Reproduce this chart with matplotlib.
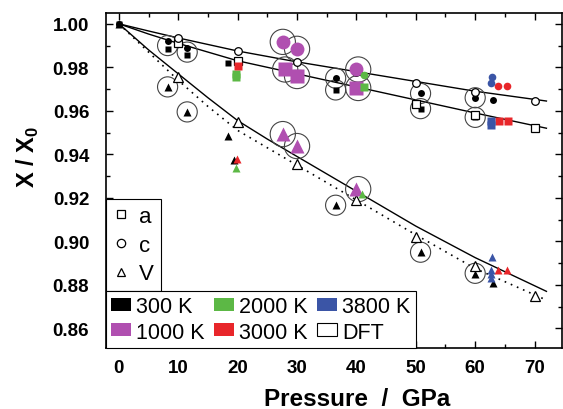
import matplotlib
matplotlib.use("Agg")
import matplotlib.pyplot as plt
import matplotlib.patches as mpatches
from matplotlib.lines import Line2D
from matplotlib.ticker import MultipleLocator

plt.rcParams["font.family"] = ["Liberation Sans", "DejaVu Sans"]
plt.rcParams["mathtext.fontset"] = "custom"
plt.rcParams["mathtext.bf"] = "Liberation Sans:bold"
plt.rcParams["mathtext.rm"] = "Liberation Sans:bold"

# fitted curves
fit_P = [0, 5, 10, 15, 20, 25, 30, 40, 50, 60, 72]
fit_a = [1.000, 0.9953, 0.991, 0.987, 0.983, 0.980, 0.977, 0.971, 0.965, 0.959, 0.952]
fit_c = [1.000, 0.9967, 0.9935, 0.9905, 0.9875, 0.985, 0.9825, 0.978, 0.9735, 0.969, 0.9645]
fit_V = [1.000, 0.988, 0.977, 0.966, 0.9555, 0.947, 0.939, 0.923, 0.907, 0.8925, 0.877]
dft_fit_V = [1.000, 0.987, 0.974, 0.962, 0.951, 0.943, 0.935, 0.919, 0.903, 0.8875, 0.873]

# DFT points
dft_P = [10, 20, 30, 40, 50, 60, 70]
dft_a = [0.991, 0.983, 0.977, 0.971, 0.963, 0.958, 0.952]
dft_c = [0.9935, 0.9876, 0.9825, 0.978, 0.9728, 0.9687, 0.9645]
dft_V = [0.9756, 0.955, 0.9355, 0.919, 0.902, 0.8885, 0.8747]

# 300 K
p300_a = [0, 8.2, 11.5, 18.3, 36.5, 50.8, 60.0]
v300_a = [1.0, 0.9885, 0.9855, 0.982, 0.9696, 0.961, 0.957]
p300_c = [0, 8.2, 11.5, 36.5, 50.8, 60.0, 63.0]
v300_c = [1.0, 0.992, 0.989, 0.975, 0.968, 0.966, 0.965]
p300_V = [0, 8.2, 11.5, 18.3, 19.3, 36.5, 50.8, 60.0, 63.0]
v300_V = [1.0, 0.971, 0.9595, 0.9484, 0.9375, 0.9166, 0.895, 0.885, 0.881]

# 1000 K
p1000_a = [28, 30, 40]
v1000_a = [0.979, 0.976, 0.9705]
p1000_c = [27.6, 30, 40]
v1000_c = [0.9917, 0.9885, 0.979]
p1000_V = [27.6, 30, 40]
v1000_V = [0.9493, 0.9438, 0.924]

# 2000 K
p2000_a = [19.8, 19.8, 41.2]
v2000_a = [0.977, 0.9755, 0.971]
p2000_c = [41.2]
v2000_c = [0.9765]
p2000_V = [19.8, 41.0]
v2000_V = [0.9337, 0.9217]

# 3000 K
p3000_a = [20.0, 64.0, 65.5]
v3000_a = [0.9805, 0.9553, 0.9553]
p3000_c = [63.8, 65.3]
v3000_c = [0.9715, 0.9715]
p3000_V = [19.9, 63.8, 65.3]
v3000_V = [0.938, 0.887, 0.887]

# 3800 K
p3800_a = [62.7, 62.7]
v3800_a = [0.9555, 0.9535]
p3800_c = [62.9, 62.6]
v3800_c = [0.9756, 0.973]
p3800_V = [62.9, 62.6, 62.6, 62.6]
v3800_V = [0.8927, 0.887, 0.885, 0.883]

# circled points
circ_P = [8.2, 11.5, 8.2, 11.5, 36.5, 36.5, 36.5, 50.8, 50.8, 50.8, 60, 60, 60]
circ_v = [0.990, 0.987, 0.971, 0.9595, 0.975, 0.9696, 0.9166, 0.968, 0.961, 0.895, 0.966, 0.957, 0.8853]
circ_big_P = [27.6, 30, 28, 30, 27.6, 30, 40.3, 40.3, 40.3]
circ_big_v = [0.9917, 0.9885, 0.979, 0.976, 0.9493, 0.9438, 0.979, 0.9705, 0.924]

colors = {
    "300 K": "black",
    "1000 K": "#b04fb0",
    "2000 K": "#5cb845",
    "3000 K": "#e8262a",
    "3800 K": "#3b55a6",
}

fig = plt.figure(figsize=(5.63, 4.10), dpi=100)
ax = fig.add_axes([0.188, 0.149, 0.810, 0.817])

ax.plot(fit_P, fit_a, color="black", lw=1.0, zorder=2)
ax.plot(fit_P, fit_c, color="black", lw=1.0, zorder=2)
ax.plot(fit_P, fit_V, color="black", lw=1.0, zorder=2)
ax.plot(fit_P, dft_fit_V, color="black", lw=1.2, ls=(0, (1, 3)), zorder=2)

ax.scatter(circ_P, circ_v, s=210, facecolor="none", edgecolor="#444444", lw=0.8, zorder=3)
ax.scatter(circ_big_P, circ_big_v, s=330, facecolor="none", edgecolor="#444444", lw=0.8, zorder=3)

groups = [
    ("300 K", p300_a, v300_a, p300_c, v300_c, p300_V, v300_V, 5),
    ("1000 K", p1000_a, v1000_a, p1000_c, v1000_c, p1000_V, v1000_V, 10),
    ("2000 K", p2000_a, v2000_a, p2000_c, v2000_c, p2000_V, v2000_V, 5.5),
    ("3000 K", p3000_a, v3000_a, p3000_c, v3000_c, p3000_V, v3000_V, 5.5),
    ("3800 K", p3800_a, v3800_a, p3800_c, v3800_c, p3800_V, v3800_V, 5.5),
]
for name, pa, va, pc, vc, pv, vv, ms in groups:
    col = colors[name]
    z = 4 if name == "300 K" else 5
    ax.plot(pa, va, "s", color=col, ms=ms, mec="none", zorder=z)
    ax.plot(pc, vc, "o", color=col, ms=ms, mec="none", zorder=z)
    ax.plot(pv, vv, "^", color=col, ms=ms + 0.5, mec="none", zorder=z)

ax.plot(dft_P, dft_a, "s", mfc="white", mec="black", ms=5.5, mew=0.9, zorder=4.5)
ax.plot(dft_P, dft_c, "o", mfc="white", mec="black", ms=5.5, mew=0.9, zorder=4.5)
ax.plot(dft_P, dft_V, "^", mfc="white", mec="black", ms=6.5, mew=0.9, zorder=4.5)

ax.set_xlim(-2.2, 74.6)
ax.set_ylim(0.851, 1.005)
ax.xaxis.set_major_locator(MultipleLocator(10))
ax.xaxis.set_minor_locator(MultipleLocator(5))
ax.yaxis.set_major_locator(MultipleLocator(0.02))
ax.yaxis.set_minor_locator(MultipleLocator(0.01))
ax.yaxis.set_major_formatter(plt.FormatStrFormatter("%.2f"))
ax.tick_params(which="both", direction="in", top=True, right=True, width=1.0)
ax.tick_params(which="major", length=5, labelsize=13.5)
ax.tick_params(axis="y", which="major", pad=12)
ax.tick_params(axis="x", which="major", pad=8)
ax.tick_params(which="minor", length=3)
for lab in ax.get_xticklabels() + ax.get_yticklabels():
    lab.set_fontweight("bold")
for sp in ax.spines.values():
    sp.set_linewidth(1.2)

ax.set_xlabel("Pressure  /  GPa", fontsize=17.5, fontweight="bold")
ax.set_ylabel(r"X / X$_\mathbf{0}$", fontsize=17, fontweight="bold")
ax.xaxis.set_label_coords(0.55, -0.118)
ax.yaxis.set_label_coords(-0.142, 0.573)

# legend for quantity
h1 = [
    Line2D([], [], ls="none", marker="s", mfc="white", mec="black", ms=6, mew=0.9),
    Line2D([], [], ls="none", marker="o", mfc="white", mec="black", ms=6, mew=0.9),
    Line2D([], [], ls="none", marker="^", mfc="white", mec="black", ms=6, mew=0.9),
]
leg1 = ax.legend(h1, ["a", "c", "V"], loc="lower left", bbox_to_anchor=(0, 0.17),
                 borderaxespad=0, fancybox=False, framealpha=1, edgecolor="black",
                 fontsize=16, handlelength=0.8, handletextpad=0.4, labelspacing=0.35,
                 borderpad=0.3)
leg1.get_frame().set_linewidth(0.8)
ax.add_artist(leg1)

temp_names = ["300 K", "1000 K", "2000 K", "3000 K", "3800 K"]
h2 = [mpatches.Patch(facecolor=colors[n], edgecolor="none") for n in temp_names]
h2.append(mpatches.Patch(facecolor="white", edgecolor="black", lw=0.8))
leg2 = ax.legend(h2, temp_names + ["DFT"], loc="lower left", bbox_to_anchor=(0, 0),
                 borderaxespad=0, ncol=3, fancybox=False, framealpha=1, edgecolor="black",
                 fontsize=15.5, handlelength=0.9, handleheight=0.55, handletextpad=0.25,
                 columnspacing=0.45, labelspacing=0.2, borderpad=0.25)
leg2.get_frame().set_linewidth(0.8)

fig.savefig("out.png", dpi=100)
